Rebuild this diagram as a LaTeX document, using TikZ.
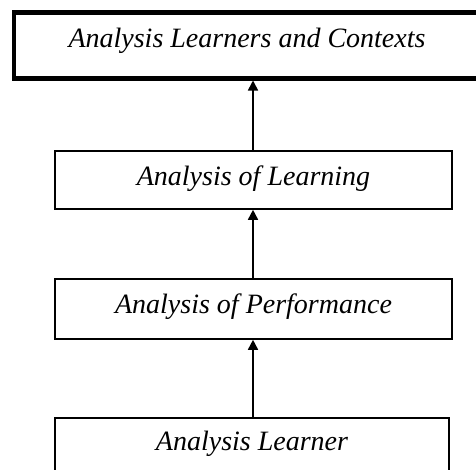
\documentclass[tikz,border=0pt]{standalone}
\usepackage{fontspec}
\setmainfont{Liberation Serif}
\usetikzlibrary{arrows.meta}
\tikzset{
  stagebox/.style={draw, line width=1.8pt, inner sep=0pt, anchor=north, font=\fontsize{28}{30}\selectfont\itshape},
  topbox/.style={draw, line width=4.5pt, inner sep=0pt, anchor=north, font=\fontsize{28}{30}\selectfont\itshape},
  flowarrow/.style={line width=1.6pt, -{Triangle[length=10pt,width=10pt]}}
}
\begin{document}
\begin{tikzpicture}[x=1pt,y=-1pt]
\useasboundingbox (0,0) rectangle (476,469);
\clip (0,0) rectangle (476,469);
\node[topbox, minimum width=466pt, text height=35pt, text depth=31pt] (ctx) at (247,10) {Analysis Learners and Contexts};
\node[stagebox, minimum width=397pt, text height=35pt, text depth=23pt] (learning) at (253.5,150) {Analysis of Learning};
\node[stagebox, minimum width=397pt, text height=35pt, text depth=25pt] (perf) at (253.5,278) {Analysis of Performance};
\node[stagebox, minimum width=394pt, text height=33pt, text depth=80pt] (learner) at (252,417) {Analysis Learner};
\draw[flowarrow] (learning.north -| 253,0) -- (ctx.south -| 253,0);
\draw[flowarrow] (perf.north -| 253,0) -- (learning.south -| 253,0);
\draw[flowarrow] (learner.north -| 253,0) -- (perf.south -| 253,0);
\end{tikzpicture}
\end{document}
